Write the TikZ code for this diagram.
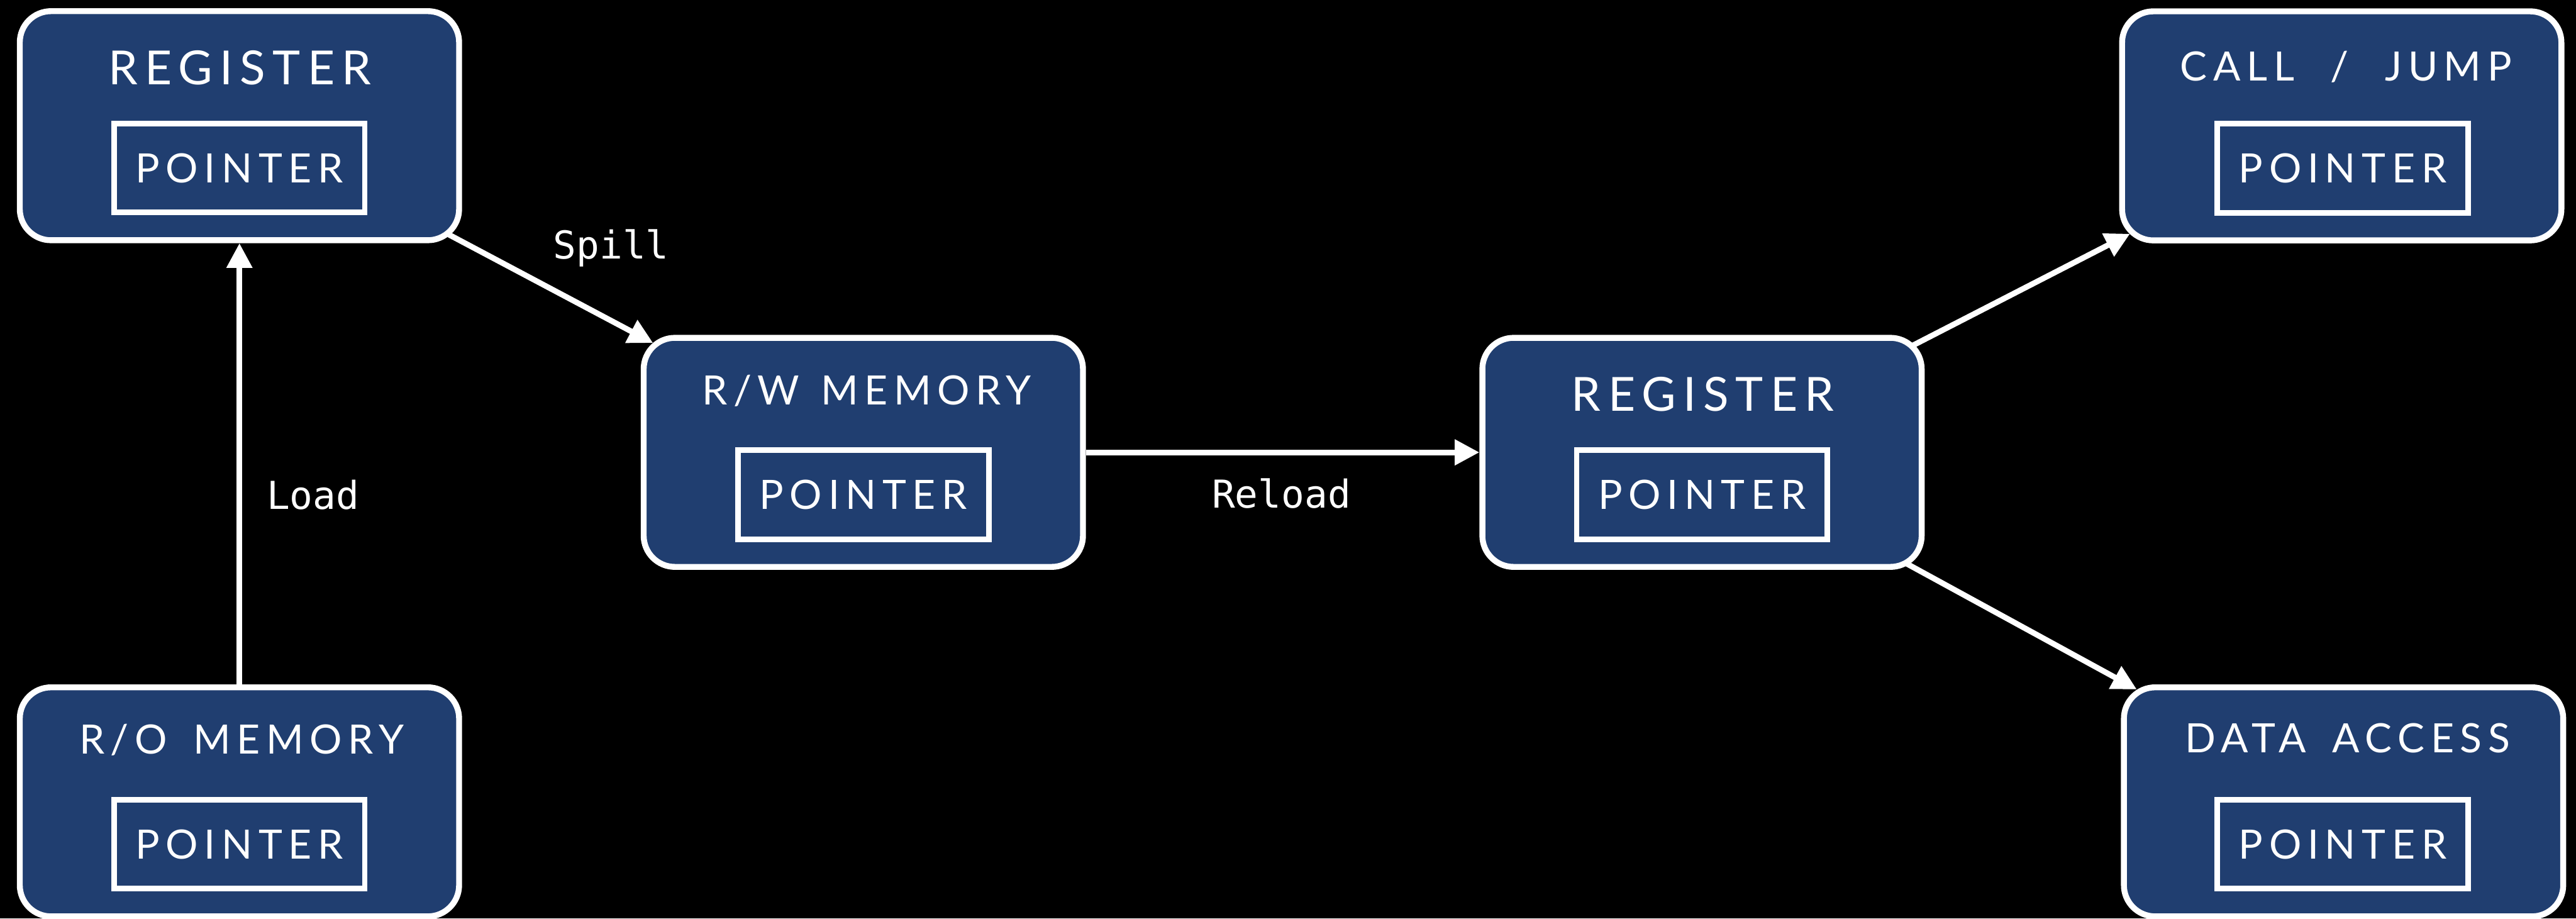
\documentclass[tikz,border=0pt]{standalone}
\usepackage{fontspec}
\usetikzlibrary{arrows.meta,calc}
\newfontfamily\ttlfam[LetterSpace=15]{Lato}
\newfontfamily\lblfam{DejaVu Sans Mono}
\definecolor{boxblue}{RGB}{32,62,112}
\newcommand{\wsp}[1]{\hspace{#1pt}}
\tikzset{
  box/.style={draw=white, line width=3.6pt, fill=boxblue, rounded corners=19pt,
    minimum width=267.4pt, minimum height=139.4pt, inner sep=0pt},
  ptr/.style={draw=white, line width=3.4pt, minimum width=152.6pt, minimum height=54.1pt,
    inner sep=0pt, text=white, text height=17.5pt, text depth=0pt,
    font=\ttlfam\fontsize{24.6pt}{29pt}\selectfont},
  ttl/.style={text=white, anchor=base, inner sep=0pt,
    font=\ttlfam\fontsize{24.6pt}{29pt}\selectfont},
  bigttl/.style={text=white, anchor=base, inner sep=0pt,
    font=\ttlfam\fontsize{28.6pt}{34pt}\selectfont},
  lbl/.style={text=white, anchor=base, inner sep=0pt,
    font=\lblfam\fontsize{23.4pt}{28pt}\selectfont},
  arr/.style={draw=white, line width=3.4pt, -{Triangle[length=15pt,width=15pt]}}
}
\begin{document}
\begin{tikzpicture}[x=1pt,y=-1pt]
\useasboundingbox (0,0) rectangle (1568,559);
\fill[black] (0,0) rectangle (1568,559);
% boxes
\node[box] (A) at (145.75,76.5) {};
\node[bigttl] (At) at (146,51.5) {REGISTER};
\node[ptr] (Ap) at (145.75,102.3) {POINTER};

\node[box] (B) at (145.75,488) {};
\node[ttl] (Bt) at (147,458.8) {R/O\wsp{6} MEMORY};
\node[ptr] (Bp) at (145.75,513.8) {POINTER};

\node[box] (C) at (525.5,275.3) {};
\node[ttl] (Ct) at (527.5,246.4) {R/W\wsp{3} MEMORY};
\node[ptr] (Cp) at (525.5,301.1) {POINTER};

\node[box] (D) at (1036,275.3) {};
\node[bigttl] (Dt) at (1036.5,250) {REGISTER};
\node[ptr] (Dp) at (1036,301.1) {POINTER};

\node[box] (E) at (1425.4,76.6) {};
\node[ttl] (Et) at (1428,49.2) {CALL\wsp{12} /\wsp{12} JUMP};
\node[ptr] (Ep) at (1426,102.4) {POINTER};

\node[box] (F) at (1426.5,488) {};
\node[ttl] (Ft) at (1429,458) {DATA\wsp{6} ACCESS};
\node[ptr] (Fp) at (1426,513.8) {POINTER};

% connectors
\draw[arr] (B.north) -- (A.south);
\draw[arr] ($(A.south east)+(-8,-5.2)$) -- ($(C.north west)+(7.5,4.9)$);
\draw[arr] (C.east) -- (D.west);
\draw[arr] ($(D.north east)+(-7.7,6.7)$) -- ($(E.south west)+(6.6,-5.8)$);
\draw[arr] ($(D.south east)+(-11,-3.8)$) -- ($(F.north west)+(9.6,3)$);

% labels
\node[lbl] (Lspill) at (372,157.7) {Spill};
\node[lbl] (Lload) at (190.5,309.8) {Load};
\node[lbl] (Lreload) at (780,309.3) {Reload};
\end{tikzpicture}
\end{document}
